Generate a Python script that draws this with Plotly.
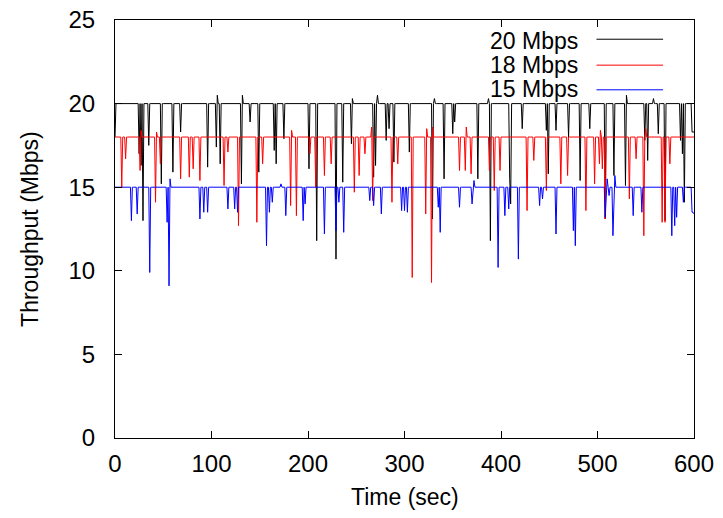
import plotly.graph_objects as go

# ---- data ----
time_sec = list(range(0, 601))
series_names = ["20 Mbps", "18 Mbps", "15 Mbps"]
series_colors = ["#000000", "#ff0000", "#0000ff"]
nominal_rate = [20.0, 18.0, 15.0]

# (second, throughput) samples that differ from the nominal rate
dips_20 = [(0, 18.0), (25, 17.0), (27, 16.3), (29, 13.0), (35, 17.5), (48, 15.2), (60, 15.9),
           (68, 18.3), (96, 16.2), (105, 17.4), (106, 20.5), (109, 16.4), (131, 15.2), (132, 20.5),
           (140, 18.9), (149, 15.9), (165, 17.2), (167, 16.4), (175, 17.9), (201, 16.1), (209, 11.8),
           (229, 10.7), (236, 15.3), (245, 17.6), (246, 20.3), (268, 15.6), (270, 16.3), (272, 20.5),
           (281, 17.8), (284, 18.5), (289, 16.5), (305, 17.1), (329, 13.1), (331, 20.3), (341, 15.5),
           (350, 18.2), (352, 18.9), (376, 15.5), (387, 20.3), (389, 11.8), (409, 15.5), (410, 14.0),
           (422, 18.5), (447, 18.4), (449, 15.8), (457, 18.4), (470, 18.0), (482, 15.4), (492, 18.5),
           (508, 13.1), (517, 15.7), (529, 15.1), (530, 20.5), (549, 17.8), (552, 16.6), (558, 20.3),
           (563, 18.2), (570, 13.0), (586, 17.8), (588, 17.0), (590, 14.1), (598, 18.3), (599, 18.3),
           (600, 18.3)]
dips_18 = [(7, 15.0), (11, 16.7), (26, 16.0), (27, 18.4), (42, 14.1), (43, 18.3), (47, 16.4),
           (68, 15.5), (77, 15.6), (81, 16.1), (88, 15.4), (113, 15.1), (117, 17.1), (128, 12.7),
           (147, 12.9), (153, 16.4), (182, 13.9), (183, 18.4), (188, 13.3), (202, 17.0), (208, 15.0),
           (217, 15.7), (224, 16.4), (248, 14.7), (253, 15.7), (259, 17.0), (266, 18.6), (267, 14.2),
           (287, 14.1), (293, 16.4), (308, 9.6), (322, 13.4), (323, 18.5), (328, 9.3), (329, 18.6),
           (357, 16.0), (363, 16.0), (364, 18.6), (369, 15.8), (388, 16.0), (393, 14.8), (399, 16.0),
           (427, 13.6), (434, 16.6), (447, 14.8), (462, 15.2), (469, 15.7), (488, 13.6), (497, 15.2),
           (502, 16.4), (503, 18.4), (505, 16.1), (508, 13.1), (533, 14.3), (540, 16.7), (548, 12.1),
           (550, 18.5), (567, 12.9), (570, 12.9), (575, 16.4)]
dips_15 = [(17, 13.0), (23, 13.4), (36, 9.9), (54, 12.9), (56, 9.1), (57, 15.5), (88, 13.1),
           (92, 13.5), (96, 13.5), (117, 13.7), (124, 13.7), (127, 13.5), (157, 11.5), (160, 13.5),
           (163, 14.1), (172, 15.2), (177, 13.3), (195, 13.0), (197, 14.0), (217, 12.2), (229, 12.4),
           (232, 14.1), (237, 12.3), (264, 14.2), (268, 13.9), (276, 13.4), (297, 13.6), (300, 13.6),
           (303, 13.5), (335, 13.8), (337, 12.3), (357, 13.8), (370, 14.0), (372, 15.4), (397, 10.2),
           (404, 13.3), (408, 13.7), (418, 10.7), (440, 13.9), (443, 14.3), (457, 12.2), (475, 12.4),
           (477, 11.5), (508, 13.2), (510, 15.5), (512, 14.5), (516, 12.1), (518, 15.7), (537, 13.3),
           (546, 13.5), (577, 12.1), (580, 12.7), (582, 13.2), (589, 14.1), (598, 13.5), (599, 13.5),
           (600, 13.4)]

x_ticks = [0, 100, 200, 300, 400, 500, 600]
y_ticks = [0, 5, 10, 15, 20, 25]


def build(nominal, dips):
    vals = [nominal] * len(time_sec)
    for t, v in dips:
        vals[t] = v
    return vals


all_dips = [dips_20, dips_18, dips_15]
FONT = "Liberation Sans, Arial, Helvetica, sans-serif"

fig = go.Figure()
for name, col, nom, dips in zip(series_names, series_colors, nominal_rate, all_dips):
    fig.add_trace(go.Scatter(x=time_sec, y=build(nom, dips), mode="lines", name=name,
                             line=dict(color=col, width=1), showlegend=False))

axis_common = dict(showline=True, linecolor="black", linewidth=1, mirror="allticks",
                   ticks="inside", ticklen=7, tickcolor="black", tickwidth=1,
                   showgrid=False, zeroline=False, automargin=False,
                   ticklabeloverflow="allow",
                   tickfont=dict(family=FONT, size=24, color="black"))

fig.update_xaxes(range=[0, 600], tickvals=x_ticks, ticktext=[str(v) for v in x_ticks],
                 ticklabelstandoff=4, **axis_common)
fig.update_yaxes(range=[0, 25], tickvals=y_ticks, ticktext=[str(v) for v in y_ticks],
                 ticklabelstandoff=14, **axis_common)

annotations = [
    dict(text="Time (sec)", xref="paper", yref="paper", x=0.5, y=-0.142,
         xanchor="center", yanchor="middle", showarrow=False,
         font=dict(family=FONT, size=23, color="black")),
    dict(text="Throughput (Mbps)", xref="paper", yref="paper", x=-0.147, y=0.5,
         xanchor="center", yanchor="middle", textangle=-90, showarrow=False,
         font=dict(family=FONT, size=23, color="black")),
]
shapes = []
legend_text_y = [0.9505, 0.892, 0.834]
legend_line_y = [0.954, 0.892, 0.833]
for name, col, ty, ly in zip(series_names, series_colors, legend_text_y, legend_line_y):
    annotations.append(dict(text=name, xref="paper", yref="paper", x=0.8017, y=ty,
                            xanchor="right", yanchor="middle", showarrow=False, borderpad=0,
                            font=dict(family=FONT, size=23, color="black")))
    shapes.append(dict(type="line", xref="paper", yref="paper", x0=0.8316, x1=0.9466,
                       y0=ly, y1=ly, line=dict(color=col, width=1)))

fig.update_layout(width=723, height=518, margin=dict(l=115.3, r=28.5, t=20, b=79.7),
                  paper_bgcolor="white", plot_bgcolor="white",
                  annotations=annotations, shapes=shapes,
                  font=dict(family=FONT, size=23, color="black"))

# remove the default page margin so the figure fills the window exactly
fig.write_html("out.html", config={"displayModeBar": False},
               post_script="document.body.style.margin='0';")
